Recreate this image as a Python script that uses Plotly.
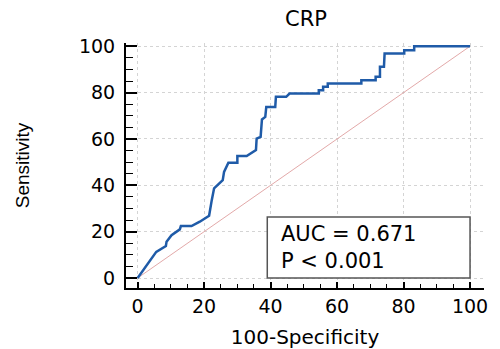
import plotly.graph_objects as go

# ROC curve
fpr = [0, 5.6, 8.5, 8.7, 10.2, 12.7, 13, 16.2, 18.7, 21.5,
       22.3, 23, 25.6, 26, 27.3, 30, 30, 32.8, 35.6, 35.8,
       37, 37.4, 38.4, 38.7, 41.4, 41.6, 44.7, 45.7, 54.5, 54.5,
       55.8, 55.8, 57.2, 57.2, 67.3, 67.3, 71.6, 71.6, 72.9, 72.9,
       74.1, 74.3, 80.2, 80.2, 83.2, 83.2, 100]
tpr = [0, 11.3, 13.8, 15.7, 18.5, 21, 22.4, 22.4, 24.3, 26.9,
       33.6, 38.7, 42.2, 45.8, 49.7, 49.7, 52.6, 52.6, 55.2, 60.2,
       60.9, 68.4, 69.5, 73.8, 73.8, 78.2, 78.2, 79.6, 79.6, 81,
       81, 82.5, 82.5, 83.9, 83.9, 85.3, 85.3, 86.8, 86.8, 91.1,
       91.1, 96.9, 96.9, 98.3, 98.3, 100, 100]
diag = [0, 100]
tick_vals = [0, 20, 40, 60, 80, 100]
auc_text = "AUC = 0.671<br>P < 0.001"
title_text = "CRP"
x_title = "100-Specificity"
y_title = "Sensitivity"

WIDE = "DejaVu Sans, sans-serif"
NARROW = "Liberation Sans, Arial, sans-serif"

fig = go.Figure()
fig.add_trace(go.Scatter(x=diag, y=diag, mode="lines",
                         line=dict(color="#e3a9a9", width=1), hoverinfo="skip"))
fig.add_trace(go.Scatter(x=fpr, y=tpr, mode="lines",
                         line=dict(color="#1f5ba8", width=2.5)))

axis_common = dict(
    showline=True, linecolor="black", linewidth=2, automargin=False,
    showgrid=True, gridcolor="#d4d4d4", gridwidth=1, griddash="dot",
    zeroline=False, tickvals=tick_vals, ticks="inside", tickcolor="black",
    tickfont=dict(family=WIDE, size=19, color="black"),
)

fig.update_layout(
    width=500, height=349,
    margin=dict(l=126, r=16, t=43, b=61),
    paper_bgcolor="white", plot_bgcolor="white",
    showlegend=False,
    title=dict(text=title_text, x=0.612, xanchor="center", y=0.946, yanchor="middle",
               yref="container", font=dict(family=WIDE, size=21, color="black")),
    xaxis=dict(axis_common, range=[-3.5, 104.2], ticklen=6, tickwidth=1.5,
               minor=dict(dtick=5, tick0=0, ticks="inside", ticklen=4, tickcolor="black",
                          tickwidth=1, showgrid=False),
               title=dict(text=x_title, standoff=15,
                          font=dict(family=WIDE, size=20, color="black"))),
    yaxis=dict(axis_common, range=[-4.3, 101.4], ticklen=11, tickwidth=1.5,
               ticklabelstandoff=5,
               minor=dict(dtick=5, tick0=0, ticks="inside", ticklen=7, tickcolor="black",
                          tickwidth=1, showgrid=False),
               title=dict(text=y_title, standoff=44,
                          font=dict(family=NARROW, size=19, color="black"))),
)

fig.add_shape(type="rect", xref="x", yref="y", x0=39, x1=100, y0=0, y1=26.3,
              line=dict(color="#555555", width=1.5), fillcolor="white", layer="above")
fig.add_annotation(xref="x", yref="y", x=42.5, y=13.2, xanchor="left", yanchor="middle",
                   text=auc_text, showarrow=False, align="left",
                   font=dict(family=WIDE, size=21, color="black"))

fig.write_html("out.html", config={"displayModeBar": False},
               post_script="document.body.style.margin='0px';")
